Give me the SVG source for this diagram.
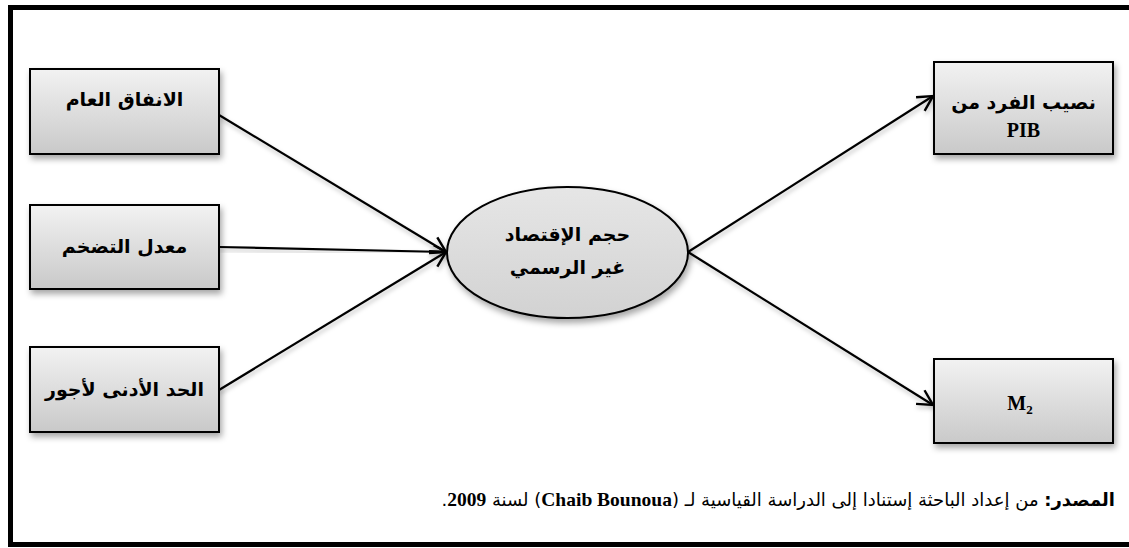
<svg xmlns="http://www.w3.org/2000/svg" width="1129" height="548" viewBox="0 0 1129 548">
<style>
.box{fill:url(#gbox);stroke:#000;stroke-width:2;filter:url(#sh)}
.ell{fill:url(#gell);stroke:#000;stroke-width:2;filter:url(#sh)}
.lbl{font-family:"DejaVu Sans",sans-serif;font-weight:bold;font-size:19px;fill:#000;text-anchor:middle}
.lat{font-family:"Liberation Serif",serif;font-weight:bold;font-size:20px;fill:#000;text-anchor:middle}
.con{stroke:#000;stroke-width:2.2;fill:none;marker-end:url(#arr);filter:url(#lsh)}
.foot{font-family:"DejaVu Sans",sans-serif;font-size:18px;fill:#000}
.fl{font-family:"Liberation Serif",serif;font-weight:bold;font-size:19.5px}
</style>
<defs>
<linearGradient id="gbox" x1="0" y1="0" x2="0" y2="1">
<stop offset="0" stop-color="#f2f2f2"/>
<stop offset="1" stop-color="#c9c9c9"/>
</linearGradient>
<linearGradient id="gell" x1="0" y1="0" x2="0" y2="1">
<stop offset="0" stop-color="#e6e6e6"/>
<stop offset="1" stop-color="#d2d2d2"/>
</linearGradient>
<filter id="sh" x="-20%" y="-20%" width="150%" height="160%">
<feDropShadow dx="2" dy="4" stdDeviation="3" flood-color="#000" flood-opacity="0.35"/>
</filter>
<filter id="lsh" x="-10%" y="-10%" width="130%" height="130%">
<feDropShadow dx="1" dy="3" stdDeviation="2" flood-color="#000" flood-opacity="0.25"/>
</filter>
<marker id="arr" markerUnits="userSpaceOnUse" markerWidth="20" markerHeight="20" viewBox="0 0 20 20" refX="17" refY="10" orient="auto">
<path d="M2,2 L17,10 L2,18" fill="none" stroke="#000" stroke-width="2.4"/>
</marker>
</defs>
<rect x="10.5" y="7.5" width="1130" height="537" fill="#fff" stroke="#000" stroke-width="5"/>
<g id="connectors">
<line class="con" x1="219" y1="115" x2="446" y2="252"/>
<line class="con" x1="219" y1="247" x2="446" y2="252"/>
<line class="con" x1="219" y1="390" x2="446" y2="252"/>
<line class="con" x1="688" y1="252" x2="933" y2="96"/>
<line class="con" x1="688" y1="252" x2="933" y2="405"/>
</g>
<g id="n1"><rect class="box" x="30" y="69" width="189" height="85"/><text class="lbl" x="124.5" y="106" direction="rtl">الانفاق العام</text></g>
<g id="n2"><rect class="box" x="30" y="205" width="189" height="84"/><text class="lbl" x="124.5" y="253" direction="rtl">معدل التضخم</text></g>
<g id="n3"><rect class="box" x="30" y="347" width="189" height="85"/><text class="lbl" x="124.5" y="396" direction="rtl">الحد الأدنى لأجور</text></g>
<g id="n4"><ellipse class="ell" cx="567.5" cy="252.5" rx="120.5" ry="65.5"/><text class="lbl" x="567.5" y="241" direction="rtl">حجم الإقتصاد</text><text class="lbl" x="567.5" y="274" direction="rtl">غير الرسمي</text></g>
<g id="n5"><rect class="box" x="934" y="62" width="179" height="92"/><text class="lbl" x="1023.5" y="109" direction="rtl">نصيب الفرد من</text><text class="lat" x="1023.5" y="137">PIB</text></g>
<g id="n6"><rect class="box" x="934" y="359" width="179" height="84"/><text class="lat" x="1020" y="410">M<tspan font-size="13" dy="4">2</tspan></text></g>
<text class="foot" x="1115" y="506" direction="rtl" text-anchor="start"><tspan font-weight="bold">المصدر:</tspan> من إعداد الباحثة إستنادا إلى الدراسة القياسية لـ (<tspan class="fl">Chaib Bounoua</tspan>) لسنة <tspan class="fl">2009</tspan>.</text>
</svg>
